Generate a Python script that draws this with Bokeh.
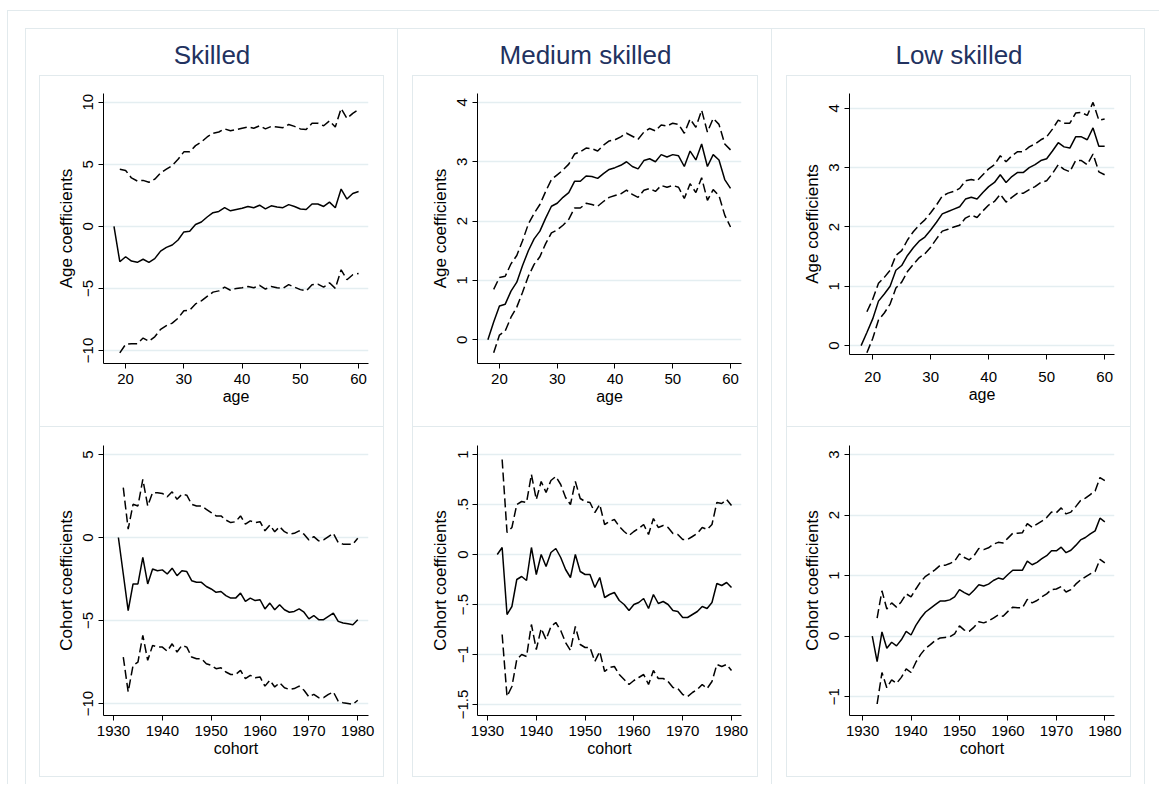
from bokeh.plotting import figure
from bokeh.layouts import row, column
from bokeh.models import Spacer, Range1d, FixedTicker, Label
from bokeh.core.validation import silence
from bokeh.core.validation.warnings import MISSING_RENDERERS
from bokeh.embed import file_html
from bokeh.resources import INLINE

silence(MISSING_RENDERERS, True)

FONT = "Liberation Sans"
GRID = "#e4eef1"
BOX = "#e2eaed"
TITLE_COLOR = "#22325f"

# ---------------- data ----------------
column_titles = ["Skilled", "Medium skilled", "Low skilled"]
x_label_age = "age"
x_label_cohort = "cohort"
y_label_age = "Age coefficients"
y_label_cohort = "Cohort coefficients"

age = list(range(18, 61))
age_ci = list(range(19, 61))
cohort_skilled = list(range(1931, 1981))
cohort_skilled_ci = list(range(1932, 1981))
cohort_other = list(range(1932, 1981))
cohort_other_ci = list(range(1933, 1981))

age_ticks = [20, 30, 40, 50, 60]
cohort_ticks = [1930, 1940, 1950, 1960, 1970, 1980]

skilled_age_ticks = [-10, -5, 0, 5, 10]
skilled_age_labels = ["\u221210", "\u22125", "0", "5", "10"]
medium_age_ticks = [0, 1, 2, 3, 4]
medium_age_labels = ["0", "1", "2", "3", "4"]
low_age_ticks = [0, 1, 2, 3, 4]
low_age_labels = ["0", "1", "2", "3", "4"]
skilled_cohort_ticks = [-10, -5, 0, 5]
skilled_cohort_labels = ["\u221210", "\u22125", "0", "5"]
medium_cohort_ticks = [-1.5, -1, -0.5, 0, 0.5, 1]
medium_cohort_labels = ["\u22121.5", "\u22121", "\u2212.5", "0", ".5", "1"]
low_cohort_ticks = [-1, 0, 1, 2, 3]
low_cohort_labels = ["\u22121", "0", "1", "2", "3"]

skilled_age_mid = [0, -2.85, -2.45, -2.8, -2.9, -2.65, -2.9, -2.6, -2.0, -1.7, -1.5, -1.1, -0.45, -0.4,
                   0.15, 0.35, 0.75, 1.1, 1.2, 1.5, 1.25, 1.35, 1.45, 1.6, 1.5, 1.7, 1.4, 1.65, 1.55,
                   1.5, 1.75, 1.6, 1.4, 1.35, 1.8, 1.8, 1.6, 1.95, 1.5, 3.0, 2.2, 2.65, 2.8]
skilled_age_hi = [4.6, 4.5, 3.9, 3.65, 3.7, 3.55, 3.8, 4.3, 4.6, 4.9, 5.4, 6.0, 6.0, 6.5, 6.8,
                  7.2, 7.5, 7.6, 7.85, 7.7, 7.8, 7.9, 8.0, 7.9, 8.1, 7.85, 8.05, 8.0, 7.95, 8.2,
                  8.05, 7.85, 7.8, 8.3, 8.3, 8.1, 8.5, 8.0, 9.5, 8.7, 9.1, 9.4]
skilled_age_lo = [-10.2, -9.5, -9.45, -9.45, -9.0, -9.25, -8.9, -8.3, -8.0, -7.8, -7.4, -6.8, -6.75,
                  -6.25, -6.0, -5.65, -5.3, -5.2, -4.9, -5.15, -5.0, -4.95, -4.85, -4.95, -4.75,
                  -5.05, -4.85, -4.95, -5.0, -4.7, -4.9, -5.1, -5.2, -4.7, -4.65, -4.9, -4.55,
                  -5.0, -3.5, -4.3, -3.9, -3.8]

medium_age_mid = [0, 0.3, 0.57, 0.6, 0.82, 0.97, 1.25, 1.5, 1.7, 1.83, 2.05, 2.25, 2.3, 2.4, 2.48,
                  2.67, 2.67, 2.76, 2.75, 2.72, 2.8, 2.87, 2.9, 2.94, 3.0, 2.92, 2.88, 3.02, 3.05,
                  3.0, 3.12, 3.08, 3.12, 3.1, 2.92, 3.18, 3.03, 3.3, 2.92, 3.12, 3.03, 2.7, 2.55]
medium_age_hi = [0.85, 1.05, 1.07, 1.28, 1.42, 1.67, 1.95, 2.13, 2.28, 2.5, 2.7, 2.78, 2.86, 2.96,
                 3.13, 3.17, 3.23, 3.22, 3.18, 3.28, 3.35, 3.37, 3.42, 3.48, 3.43, 3.38, 3.5, 3.56,
                 3.52, 3.62, 3.6, 3.65, 3.63, 3.48, 3.72, 3.58, 3.87, 3.5, 3.73, 3.63, 3.3, 3.2]
medium_age_lo = [-0.22, 0.08, 0.15, 0.38, 0.55, 0.8, 1.07, 1.27, 1.4, 1.62, 1.8, 1.85, 1.93, 2.03,
                 2.22, 2.22, 2.3, 2.28, 2.25, 2.33, 2.4, 2.43, 2.46, 2.52, 2.45, 2.4, 2.52, 2.55,
                 2.5, 2.6, 2.57, 2.6, 2.57, 2.38, 2.63, 2.48, 2.73, 2.35, 2.53, 2.43, 2.1, 1.9]

low_age_mid = [0, 0.22, 0.45, 0.75, 0.87, 1.0, 1.27, 1.35, 1.52, 1.65, 1.76, 1.83, 1.95, 2.08, 2.22,
               2.26, 2.3, 2.34, 2.47, 2.5, 2.47, 2.58, 2.68, 2.75, 2.88, 2.75, 2.85, 2.92, 2.92,
               3.0, 3.05, 3.12, 3.15, 3.28, 3.42, 3.35, 3.33, 3.52, 3.52, 3.47, 3.67, 3.36, 3.36]
low_age_hi = [0.57, 0.78, 1.05, 1.15, 1.27, 1.52, 1.6, 1.78, 1.92, 2.03, 2.12, 2.24, 2.37, 2.52,
              2.57, 2.6, 2.65, 2.78, 2.8, 2.78, 2.88, 2.98, 3.05, 3.2, 3.1, 3.2, 3.27, 3.27, 3.35,
              3.4, 3.47, 3.52, 3.65, 3.8, 3.75, 3.75, 3.92, 3.93, 3.88, 4.1, 3.8, 3.82]
low_age_lo = [-0.12, 0.12, 0.43, 0.55, 0.7, 0.97, 1.07, 1.25, 1.37, 1.48, 1.55, 1.66, 1.8, 1.93,
              1.96, 2.0, 2.03, 2.15, 2.2, 2.16, 2.27, 2.37, 2.43, 2.55, 2.42, 2.5, 2.57, 2.57,
              2.63, 2.68, 2.75, 2.78, 2.9, 3.05, 2.97, 2.93, 3.12, 3.12, 3.05, 3.23, 2.93, 2.88]

skilled_cohort_mid = [0, -2.2, -4.4, -2.8, -2.8, -1.2, -2.8, -1.9, -2.0, -1.95, -2.2, -1.85, -2.3,
                      -2.0, -2.05, -2.6, -2.7, -2.7, -2.95, -3.1, -3.3, -3.25, -3.5, -3.65, -3.65,
                      -3.35, -3.85, -3.65, -3.8, -3.75, -4.3, -3.95, -4.35, -4.05, -4.35, -4.5,
                      -4.45, -4.3, -4.5, -4.9, -4.7, -4.95, -4.95, -4.75, -4.55, -5.05, -5.15,
                      -5.2, -5.25, -4.95]
skilled_cohort_hi = [3.0, 0.5, 2.0, 1.9, 3.5, 1.9, 2.7, 2.7, 2.65, 2.45, 2.75, 2.3, 2.6, 2.55, 2.0,
                     1.9, 1.9, 1.7, 1.5, 1.3, 1.3, 1.05, 0.9, 0.95, 1.3, 0.8, 1.0, 0.9, 0.95, 0.4,
                     0.75, 0.35, 0.65, 0.35, 0.2, 0.25, 0.4, 0.2, -0.15, 0.05, -0.2, -0.15, 0.05,
                     0.25, -0.3, -0.4, -0.4, -0.4, -0.05]
skilled_cohort_lo = [-7.2, -9.3, -7.7, -7.5, -5.9, -7.4, -6.5, -6.6, -6.6, -6.85, -6.4, -6.9, -6.5,
                     -6.6, -7.2, -7.3, -7.3, -7.6, -7.7, -7.9, -7.85, -8.1, -8.25, -8.25, -8.0,
                     -8.5, -8.3, -8.45, -8.4, -8.95, -8.6, -9.0, -8.75, -9.05, -9.15, -9.1, -8.95,
                     -9.2, -9.6, -9.45, -9.65, -9.65, -9.45, -9.3, -9.85, -9.95, -10.0, -10.05, -9.8]

medium_cohort_mid = [0, 0.07, -0.6, -0.52, -0.25, -0.22, -0.26, 0.07, -0.2, 0.0, -0.12, 0.02, 0.06,
                     -0.03, -0.15, -0.23, 0.0, -0.17, -0.2, -0.2, -0.33, -0.23, -0.43, -0.4, -0.38,
                     -0.46, -0.5, -0.56, -0.5, -0.48, -0.44, -0.54, -0.4, -0.49, -0.47, -0.5,
                     -0.56, -0.57, -0.63, -0.63, -0.6, -0.57, -0.52, -0.54, -0.48, -0.29, -0.31,
                     -0.28, -0.33]
medium_cohort_hi = [0.95, 0.22, 0.27, 0.5, 0.53, 0.52, 0.8, 0.55, 0.73, 0.62, 0.74, 0.78, 0.7, 0.57,
                    0.5, 0.73, 0.56, 0.53, 0.52, 0.42, 0.5, 0.3, 0.33, 0.35, 0.28, 0.23, 0.19, 0.23,
                    0.26, 0.3, 0.2, 0.36, 0.27, 0.29, 0.27, 0.21, 0.2, 0.15, 0.15, 0.18, 0.21, 0.27,
                    0.25, 0.3, 0.52, 0.51, 0.55, 0.49]
medium_cohort_lo = [-0.8, -1.42, -1.32, -1.05, -1.0, -1.02, -0.7, -0.95, -0.74, -0.85, -0.72, -0.68,
                    -0.76, -0.88, -0.96, -0.72, -0.9, -0.93, -0.93, -1.07, -0.97, -1.17, -1.13,
                    -1.12, -1.2, -1.25, -1.3, -1.26, -1.23, -1.2, -1.3, -1.16, -1.24, -1.24, -1.27,
                    -1.33, -1.34, -1.4, -1.42, -1.38, -1.35, -1.3, -1.34, -1.27, -1.1, -1.12,
                    -1.1, -1.16]

low_cohort_mid = [0, -0.42, 0.07, -0.2, -0.1, -0.16, -0.06, 0.08, 0.02, 0.18, 0.3, 0.4, 0.46, 0.52,
                  0.58, 0.58, 0.6, 0.65, 0.77, 0.72, 0.68, 0.76, 0.85, 0.83, 0.86, 0.92, 0.96, 0.94,
                  1.02, 1.09, 1.09, 1.09, 1.24, 1.18, 1.22, 1.28, 1.33, 1.41, 1.41, 1.47, 1.38,
                  1.42, 1.5, 1.59, 1.63, 1.69, 1.74, 1.95, 1.89]
low_cohort_hi = [0.3, 0.75, 0.45, 0.55, 0.48, 0.57, 0.7, 0.65, 0.78, 0.9, 0.99, 1.04, 1.1, 1.17,
                 1.17, 1.2, 1.24, 1.36, 1.3, 1.26, 1.33, 1.45, 1.43, 1.46, 1.52, 1.55, 1.54, 1.62,
                 1.7, 1.7, 1.71, 1.86, 1.8, 1.85, 1.9, 1.96, 2.05, 2.04, 2.12, 2.02, 2.05, 2.14,
                 2.24, 2.28, 2.34, 2.4, 2.62, 2.57]
low_cohort_lo = [-1.12, -0.6, -0.85, -0.72, -0.78, -0.68, -0.54, -0.6, -0.43, -0.3, -0.2, -0.14,
                 -0.07, -0.03, -0.02, -0.01, 0.04, 0.17, 0.1, 0.08, 0.15, 0.24, 0.22, 0.25, 0.3,
                 0.35, 0.33, 0.41, 0.48, 0.47, 0.47, 0.61, 0.55, 0.59, 0.65, 0.7, 0.77, 0.78,
                 0.82, 0.73, 0.77, 0.86, 0.93, 0.98, 1.03, 1.07, 1.27, 1.21]

# ---------------- drawing ----------------
TOP_SHADOW = f"inset 0 0 0 1px {BOX}"
BOTTOM_SHADOW = f"inset 1px 0 0 {BOX}, inset -1px 0 0 {BOX}, inset 0 -1px 0 {BOX}"
TOP_H, BOT_H, TITLE_H = 352, 350, 47


def panel(w, h, borders, xr, yr, x, mid, xci, lo, hi, xticks, yticks, ylabels,
          xlabel, ylabel, shadow, x_standoff):
    assert len(x) == len(mid) and len(xci) == len(lo) == len(hi)
    bl, br, bt, bb = borders
    p = figure(width=w, height=h, x_range=Range1d(*xr), y_range=Range1d(*yr),
               output_backend="svg", toolbar_location=None,
               min_border_left=bl, min_border_right=br,
               min_border_top=bt, min_border_bottom=bb,
               styles={"box-shadow": shadow})
    p.border_fill_alpha = 0
    p.background_fill_color = "white"
    p.outline_line_color = None
    p.xgrid.visible = False
    p.ygrid.ticker = FixedTicker(ticks=yticks)
    p.ygrid.grid_line_color = GRID
    p.ygrid.grid_line_width = 1.5

    p.line(xci, hi, line_color="black", line_width=1.5, line_dash="9 4")
    p.line(xci, lo, line_color="black", line_width=1.5, line_dash="9 4")
    p.line(x, mid, line_color="black", line_width=1.5)

    for ax in (p.xaxis[0], p.yaxis[0]):
        ax.axis_line_color = "black"
        ax.axis_line_width = 1
        ax.major_tick_line_color = "black"
        ax.major_tick_out = 5
        ax.major_tick_in = 0
        ax.minor_tick_line_color = None
        ax.major_label_text_font = FONT
        ax.major_label_text_font_size = "15px"
        ax.major_label_text_color = "black"
        ax.axis_label_text_font = FONT
        ax.axis_label_text_font_style = "normal"
        ax.axis_label_text_color = "black"
    xa = p.xaxis[0]
    xa.ticker = FixedTicker(ticks=xticks)
    xa.axis_label = xlabel
    xa.axis_label_text_font_size = "16px"
    xa.major_label_standoff = x_standoff
    xa.axis_label_standoff = 1
    ya = p.yaxis[0]
    ya.ticker = FixedTicker(ticks=yticks)
    ya.major_label_overrides = {t: l for t, l in zip(yticks, ylabels)}
    ya.major_label_orientation = "vertical"
    ya.major_label_standoff = 5
    ya.axis_label = ylabel
    ya.axis_label_text_font_size = "17px"
    ya.axis_label_standoff = 5
    return p


def title_fig(w, text):
    p = figure(width=w, height=TITLE_H, x_range=Range1d(0, 1), y_range=Range1d(0, 1),
               output_backend="svg", toolbar_location=None, min_border=0)
    p.border_fill_alpha = 0
    p.background_fill_alpha = 0
    p.outline_line_color = None
    p.axis.visible = False
    p.grid.visible = False
    p.add_layout(Label(x=w / 2, y=21, x_units="screen", y_units="screen", text=text,
                       text_align="center", text_baseline="middle",
                       text_font=FONT, text_font_size="26px", text_color=TITLE_COLOR))
    return p


col_widths = [373, 374, 373]
panel_widths = [345, 346, 345]

top_specs = [
    dict(borders=(64, 16, 18, 64), xr=(16.2, 61.7), yr=(-11.05, 10.7), xs=5,
         mid=skilled_age_mid, lo=skilled_age_lo, hi=skilled_age_hi,
         yticks=skilled_age_ticks, ylabels=skilled_age_labels),
    dict(borders=(65, 17, 18, 64), xr=(16.2, 61.9), yr=(-0.40, 4.15), xs=5,
         mid=medium_age_mid, lo=medium_age_lo, hi=medium_age_hi,
         yticks=medium_age_ticks, ylabels=medium_age_labels),
    dict(borders=(63, 17, 18, 73), xr=(16.0, 61.7), yr=(-0.15, 4.25), xs=12,
         mid=low_age_mid, lo=low_age_lo, hi=low_age_hi,
         yticks=low_age_ticks, ylabels=low_age_labels),
]
bottom_specs = [
    dict(borders=(64, 16, 18, 62), xr=(1927.95, 1982.2), yr=(-10.72, 5.54), xs=5,
         x=cohort_skilled, xci=cohort_skilled_ci,
         mid=skilled_cohort_mid, lo=skilled_cohort_lo, hi=skilled_cohort_hi,
         yticks=skilled_cohort_ticks, ylabels=skilled_cohort_labels),
    dict(borders=(65, 17, 18, 62), xr=(1927.95, 1982.05), yr=(-1.61, 1.09), xs=5,
         x=cohort_other, xci=cohort_other_ci,
         mid=medium_cohort_mid, lo=medium_cohort_lo, hi=medium_cohort_hi,
         yticks=medium_cohort_ticks, ylabels=medium_cohort_labels),
    dict(borders=(63, 17, 18, 62), xr=(1927.3, 1982.0), yr=(-1.31, 3.15), xs=5,
         x=cohort_other, xci=cohort_other_ci,
         mid=low_cohort_mid, lo=low_cohort_lo, hi=low_cohort_hi,
         yticks=low_cohort_ticks, ylabels=low_cohort_labels),
]

cols = []
for i in range(3):
    cw, pw = col_widths[i], panel_widths[i]
    ts, bs = top_specs[i], bottom_specs[i]
    top = panel(pw, TOP_H, ts["borders"], ts["xr"], ts["yr"], age, ts["mid"], age_ci,
                ts["lo"], ts["hi"], age_ticks, ts["yticks"], ts["ylabels"],
                x_label_age, y_label_age, TOP_SHADOW, ts["xs"])
    bot = panel(pw, BOT_H, bs["borders"], bs["xr"], bs["yr"], bs["x"], bs["mid"], bs["xci"],
                bs["lo"], bs["hi"], cohort_ticks, bs["yticks"], bs["ylabels"],
                x_label_cohort, y_label_cohort, BOTTOM_SHADOW, bs["xs"])
    if i == 0:
        shadow = f"inset 1px 0 0 {BOX}, inset -1px 0 0 {BOX}, inset 0 1px 0 {BOX}"
    else:
        shadow = f"inset -1px 0 0 {BOX}, inset 0 1px 0 {BOX}"
    c = column(
        title_fig(cw, column_titles[i]),
        row(Spacer(width=14, height=TOP_H), top, Spacer(width=14, height=TOP_H)),
        row(Spacer(width=14, height=BOT_H), bot, Spacer(width=14, height=BOT_H)),
        Spacer(width=cw, height=7),
        styles={"box-shadow": shadow},
    )
    cols.append(c)

inner_h = TITLE_H + TOP_H + BOT_H + 7
inner = column(
    Spacer(width=1152, height=18),
    row(Spacer(width=18, height=inner_h), *cols, Spacer(width=14, height=inner_h)),
    styles={"box-shadow": f"inset 1px 0 0 {BOX}, inset 0 1px 0 {BOX}"},
)
layout = column(
    Spacer(width=1159, height=10),
    row(Spacer(width=7, height=18 + inner_h), inner),
)

open("out.html", "w").write(file_html(layout, INLINE))
